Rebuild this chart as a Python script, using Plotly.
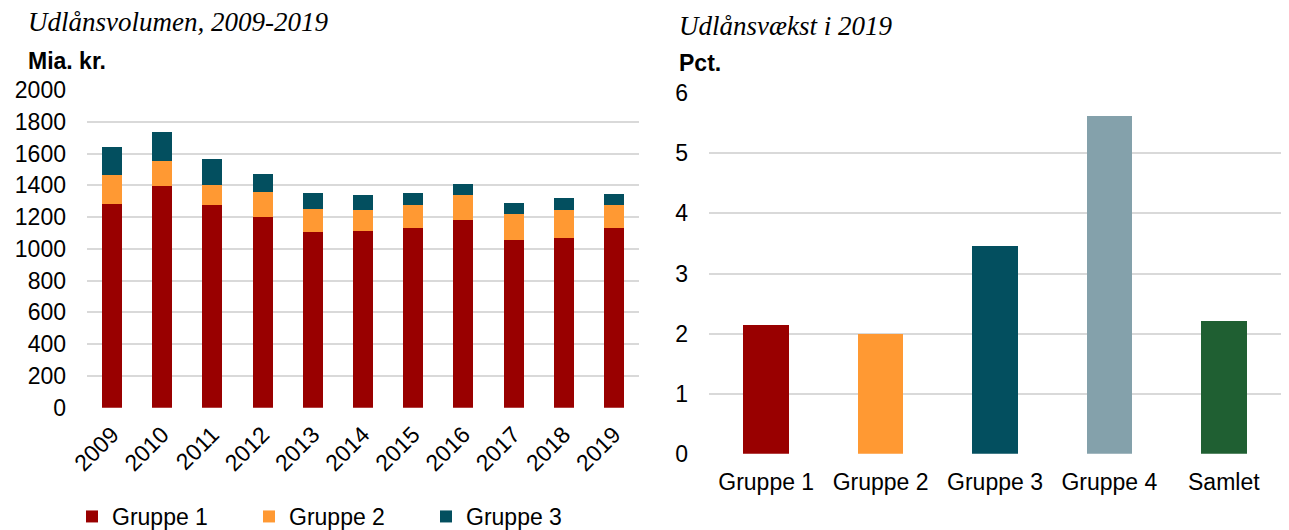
import plotly.graph_objects as go

# ---- Data ----
years = ["2009", "2010", "2011", "2012", "2013", "2014", "2015", "2016", "2017", "2018", "2019"]
gruppe1 = [1283, 1398, 1275, 1203, 1108, 1114, 1129, 1184, 1054, 1066, 1129]
gruppe2 = [181, 158, 128, 158, 141, 129, 149, 158, 168, 181, 149]
gruppe3 = [180, 179, 160, 111, 103, 95, 74, 67, 65, 72, 70]

growth_cats = ["Gruppe 1", "Gruppe 2", "Gruppe 3", "Gruppe 4", "Samlet"]
growth_vals = [2.14, 2.00, 3.46, 5.62, 2.21]

left_ticks = [0, 200, 400, 600, 800, 1000, 1200, 1400, 1600, 1800, 2000]
right_ticks = [0, 1, 2, 3, 4, 5, 6]

# ---- Style ----
W, H = 1289, 530
C1, C2, C3, C4, C5 = "#990000", "#FF9933", "#034F5F", "#84A1AB", "#1F5F32"
GRID = "#D9D9D9"
SANS = "Liberation Sans, Arial, sans-serif"
SERIF = "Liberation Serif, DejaVu Serif, serif"
FS = 23

def px_x(x):
    return x / W

def px_y(y):
    return (H - y) / H

fig = go.Figure()

for name, vals, col in [("Gruppe 1", gruppe1, C1), ("Gruppe 2", gruppe2, C2), ("Gruppe 3", gruppe3, C3)]:
    fig.add_trace(go.Bar(x=years, y=vals, name=name, marker=dict(color=col, line=dict(width=0)),
                         xaxis="x", yaxis="y"))

fig.add_trace(go.Bar(x=growth_cats, y=growth_vals, showlegend=False,
                     marker=dict(color=[C1, C2, C3, C4, C5], line=dict(width=0)),
                     xaxis="x2", yaxis="y2"))

axis_common = dict(showline=False, zeroline=False, automargin=False,
                   tickfont=dict(family=SANS, size=FS, color="#000000"))

fig.update_layout(
    width=W, height=H, autosize=False,
    margin=dict(l=0, r=0, t=0, b=0, autoexpand=False),
    paper_bgcolor="white", plot_bgcolor="white",
    barmode="stack", bargap=0.6,
    font=dict(family=SANS, size=FS, color="#000000"),
    xaxis=dict(domain=[px_x(87), px_x(639)], anchor="y", type="category",
               tickangle=-45, showgrid=False, ticks="", ticklabelstandoff=8, **axis_common),
    yaxis=dict(domain=[px_y(407.7), px_y(90)], anchor="x", range=[0, 2000],
               tickvals=left_ticks, showgrid=True, gridcolor=GRID, gridwidth=2,
               ticks="", ticklabelstandoff=20, **axis_common),
    xaxis2=dict(domain=[px_x(709), px_x(1281)], anchor="y2", type="category",
                showgrid=False, ticks="", ticklabelstandoff=12, **axis_common),
    yaxis2=dict(domain=[px_y(453.7), px_y(93.3)], anchor="x2", range=[0, 6],
                tickvals=right_ticks, showgrid=True, gridcolor=GRID, gridwidth=2,
                ticks="", ticklabelstandoff=20, **axis_common),
    legend=dict(orientation="h", x=px_x(72), y=px_y(516.5), xref="container", yref="container",
                xanchor="left", yanchor="middle",
                font=dict(family=SANS, size=FS), entrywidth=132, entrywidthmode="pixels",
                traceorder="normal", bgcolor="rgba(0,0,0,0)", itemclick=False),
    annotations=[
        dict(text="<i>Udlånsvolumen, 2009-2019</i>", x=px_x(26), y=px_y(22), xref="paper", yref="paper",
             xanchor="left", yanchor="middle", showarrow=False,
             font=dict(family=SERIF, size=27, color="#000000")),
        dict(text="<b>Mia. kr.</b>", x=px_x(26), y=px_y(61), xref="paper", yref="paper",
             xanchor="left", yanchor="middle", showarrow=False,
             font=dict(family=SANS, size=FS, color="#000000")),
        dict(text="<i>Udlånsvækst i 2019</i>", x=px_x(677), y=px_y(26), xref="paper", yref="paper",
             xanchor="left", yanchor="middle", showarrow=False,
             font=dict(family=SERIF, size=27, color="#000000")),
        dict(text="<b>Pct.</b>", x=px_x(677), y=px_y(63), xref="paper", yref="paper",
             xanchor="left", yanchor="middle", showarrow=False,
             font=dict(family=SANS, size=FS, color="#000000")),
    ],
)

fig.write_html(
    "out.html",
    config={"displayModeBar": False},
    post_script="document.documentElement.style.margin='0';document.body.style.margin='0';"
                "document.body.style.overflow='hidden';",
)
